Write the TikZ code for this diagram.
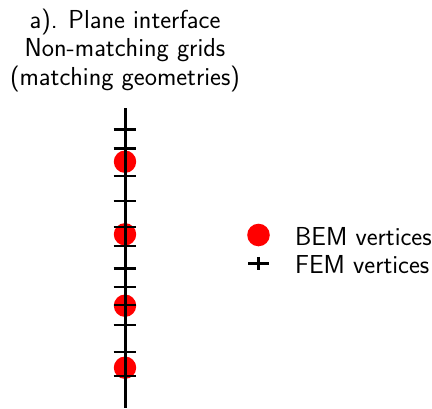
\documentclass[tikz,border=0pt]{standalone}
\usepackage{tikz}
\usetikzlibrary{positioning}
\tikzset{
  txt/.style={font=\sffamily\fontsize{26}{28.5}\selectfont,inner sep=0pt},
  bemdot/.style={fill=red,draw=none},
  femtick/.style={line width=2.4pt},
}
\begin{document}
\begin{tikzpicture}[x=1pt,y=-1pt]
\useasboundingbox (0,0) rectangle (432,408);
% title
\node[txt,align=center,anchor=base] (title) at (125,85) {a). Plane interface\\Non-matching grids\\(matching geometries)};
% BEM vertices below the grid line
\foreach \y in {161.7,234.3,305.7,367.7} {
  \fill[bemdot] (125,\y) circle (11.2);
}
% interface line
\coordinate (top) at (125,108);
\coordinate (bot) at (125,408);
\draw[line width=3pt] (top) -- (bot);
% FEM vertices
\foreach \y in {129.3,148.3,176,200.7,226.7,246,268.3,286.7,305,325,351.7,375.7} {
  \draw[femtick] (113.7,\y) -- (136.3,\y);
}
% legend
\fill[bemdot] (258.5,235) circle (11.3);
\draw[femtick] (248,263.3) -- (269,263.3);
\draw[femtick] (258.5,256.8) -- (258.5,269.8);
\node[txt,anchor=base west] (bemlbl) at (295,245) {BEM vertices};
\node[txt,anchor=base west] (femlbl) at (295,273.3) {FEM vertices};
\end{tikzpicture}
\end{document}
